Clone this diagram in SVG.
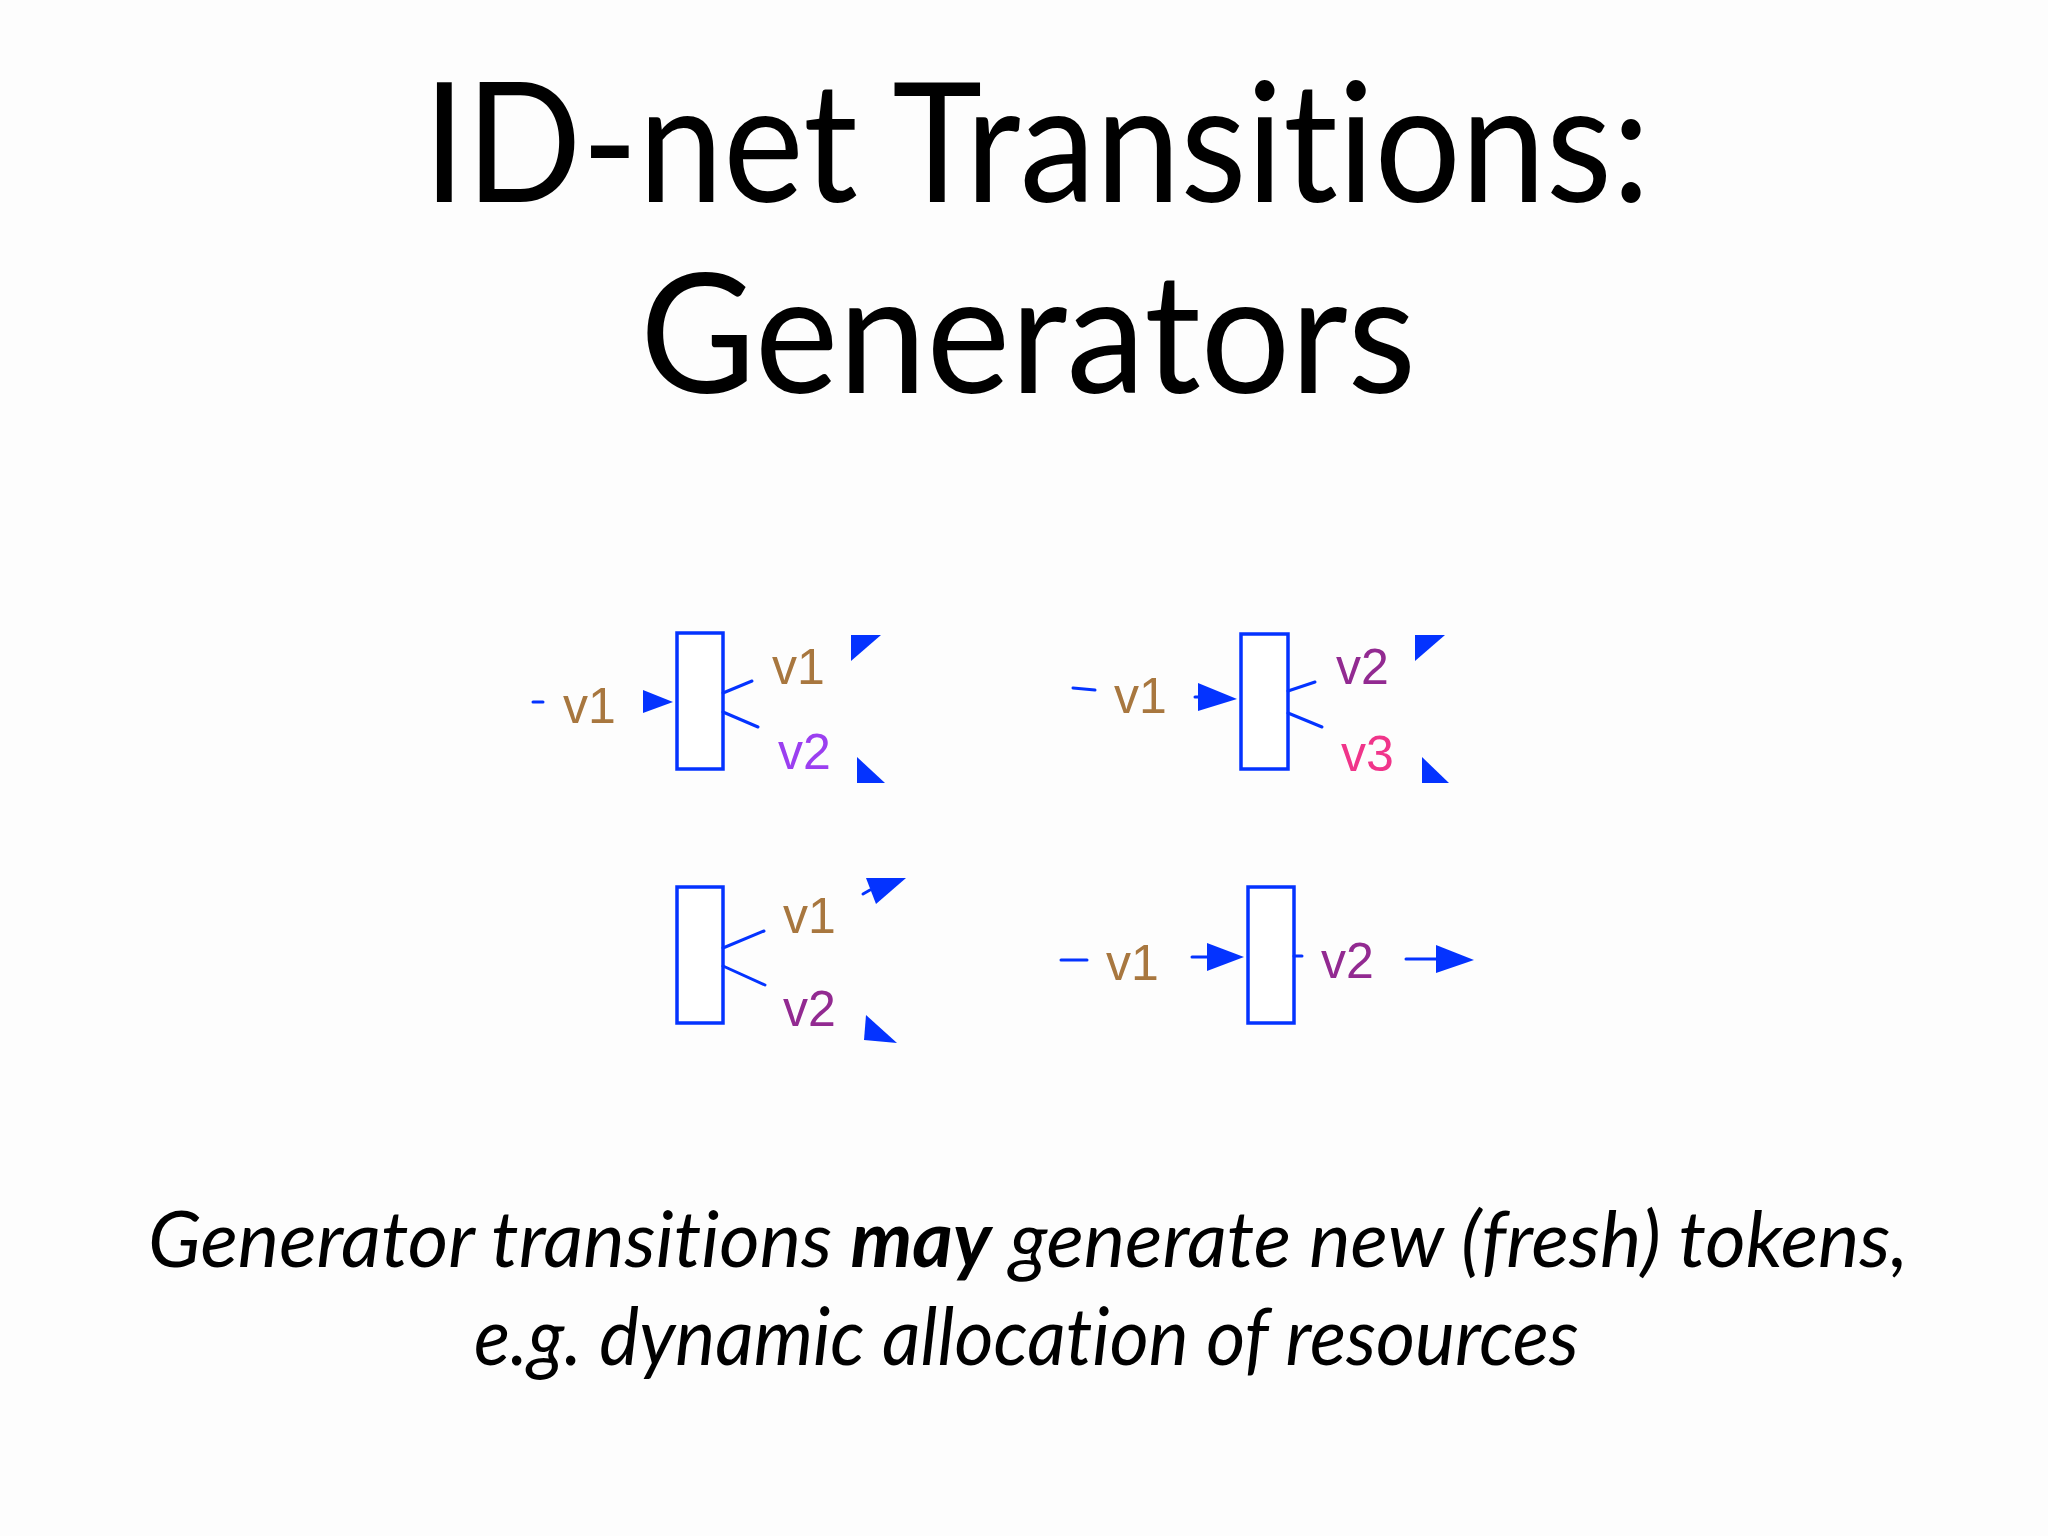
<svg xmlns="http://www.w3.org/2000/svg" width="2048" height="1536" viewBox="0 0 2048 1536">
<style>
.title{font-family:Lato,"Open Sans","Liberation Sans",sans-serif;font-size:166px;fill:#000;font-variant-ligatures:none}
.caption{font-family:Lato,"Open Sans","Liberation Sans",sans-serif;font-size:80px;font-style:italic;fill:#000;font-variant-ligatures:none}
.bold{font-weight:bold}
.lbl{font-family:"Liberation Sans",Arial,sans-serif;font-size:50px}
.brown{fill:#a8773f}
.violet{fill:#9b3ff0}
.plum{fill:#922a91}
.pink{fill:#f0358a}
.trans{fill:#fff;stroke:#0433ff;stroke-width:3.5}
.ln{stroke:#0433ff;stroke-width:3;fill:none;stroke-linecap:round}
.head{fill:#0433ff}
</style>
<rect width="2048" height="1536" fill="#fdfdfd"/>
<g id="title">
<text class="title" x="423" y="202" textLength="1227" lengthAdjust="spacingAndGlyphs">ID-net Transitions:</text>
<text class="title" x="640" y="393" textLength="776" lengthAdjust="spacingAndGlyphs">Generators</text>
</g>
<g id="transition-1">
<rect class="trans" x="677" y="633" width="46" height="136"/>
</g>
<g id="transition-2">
<rect class="trans" x="1241" y="634" width="47" height="135"/>
</g>
<g id="transition-3">
<rect class="trans" x="677" y="887" width="46" height="136"/>
</g>
<g id="transition-4">
<rect class="trans" x="1248" y="887" width="46" height="136"/>
</g>
<g id="connectors">
<line class="ln" x1="533" y1="702" x2="543" y2="702"/>
<polygon class="head" points="643,690 673,702 643,713"/>
<line class="ln" x1="723" y1="693" x2="752" y2="681"/>
<line class="ln" x1="723" y1="712" x2="758" y2="727"/>
<polygon class="head" points="851,635 881,635 851,661"/>
<polygon class="head" points="857,757 857,783 885,783"/>

<line class="ln" x1="1073" y1="688" x2="1095" y2="690"/>
<line class="ln" x1="1195" y1="697" x2="1210" y2="697"/>
<polygon class="head" points="1198,683 1237,699 1198,711"/>
<line class="ln" x1="1288" y1="691" x2="1315" y2="682"/>
<line class="ln" x1="1288" y1="713" x2="1322" y2="727"/>
<polygon class="head" points="1415,635 1445,635 1415,661"/>
<polygon class="head" points="1422,757 1422,783 1449,783"/>

<line class="ln" x1="723" y1="948" x2="764" y2="931"/>
<line class="ln" x1="723" y1="966" x2="765" y2="985"/>
<line class="ln" x1="863" y1="894" x2="870" y2="890"/>
<polygon class="head" points="866,878 906,878 876,904"/>
<polygon class="head" points="866,1015 864,1040 897,1043"/>

<line class="ln" x1="1061" y1="960" x2="1087" y2="960"/>
<line class="ln" x1="1192" y1="957" x2="1210" y2="957"/>
<polygon class="head" points="1207,943 1244,957 1207,971"/>
<line class="ln" x1="1294" y1="956" x2="1302" y2="956"/>
<line class="ln" x1="1406" y1="959" x2="1440" y2="959"/>
<polygon class="head" points="1436,945 1474,960 1436,973"/>
</g>
<g id="labels">
<text class="lbl brown" x="563" y="723">v1</text>
<text class="lbl brown" x="772" y="684">v1</text>
<text class="lbl violet" x="778" y="769">v2</text>
<text class="lbl brown" x="1114" y="713">v1</text>
<text class="lbl plum" x="1336" y="684">v2</text>
<text class="lbl pink" x="1341" y="771">v3</text>
<text class="lbl brown" x="783" y="933">v1</text>
<text class="lbl plum" x="783" y="1026">v2</text>
<text class="lbl brown" x="1106" y="980">v1</text>
<text class="lbl plum" x="1321" y="978">v2</text>
</g>
<g id="caption">
<text class="caption" x="1028" y="1267" text-anchor="middle" style="font-size:78px">Generator transitions <tspan class="bold">may</tspan> generate new (fresh) tokens,</text>
<text class="caption" x="474" y="1365" textLength="1105" lengthAdjust="spacingAndGlyphs">e.g. dynamic allocation of resources</text>
</g>
</svg>
